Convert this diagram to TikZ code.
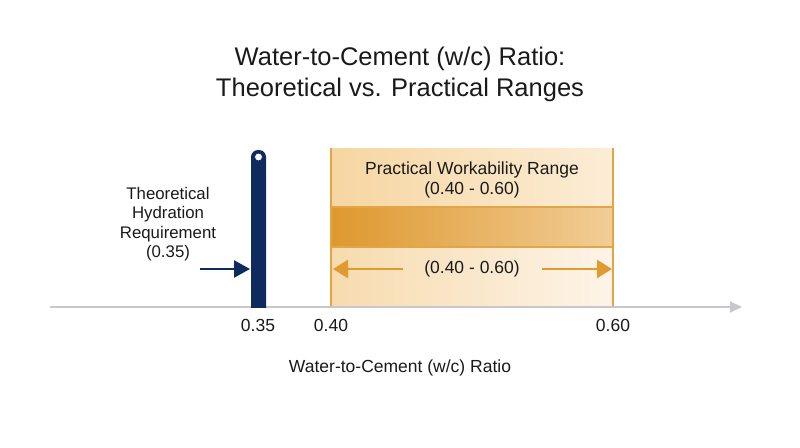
\documentclass[tikz,border=0pt]{standalone}
\usepackage{fontspec}
\setmainfont{Liberation Sans}
\usetikzlibrary{arrows.meta}
\definecolor{navy}{HTML}{0F2A5F}
\definecolor{orng}{HTML}{E09A30}
\definecolor{oline}{HTML}{E3A545}
\definecolor{axisgray}{HTML}{C8C8CC}
\definecolor{txt}{HTML}{1A1A1A}
\definecolor{upL}{HTML}{F6D6A2}
\definecolor{upR}{HTML}{FCEDD6}
\definecolor{bdL}{HTML}{DE982F}
\definecolor{bdR}{HTML}{F1CD96}
\definecolor{loL}{HTML}{F7DBAE}
\definecolor{loR}{HTML}{FDF4E8}
\tikzset{
  lbl/.style={font=\fontsize{17.5}{20.5}\selectfont, text=txt, align=center, inner sep=0pt},
  sidelbl/.style={font=\fontsize{16.8}{19.5}\selectfont, text=txt, align=center, inner sep=0pt},
  ttl/.style={font=\fontsize{25.5}{31}\selectfont, text=txt, align=center, inner sep=0pt},
  oarrow/.style={draw=orng, line width=2.5pt, -{Triangle[length=15pt,width=18pt]}},
  barrow/.style={draw=navy, line width=2.5pt, -{Triangle[length=16pt,width=17pt]}}
}
\begin{document}
\begin{tikzpicture}[x=1pt,y=-1pt]
\useasboundingbox (0,0) rectangle (800,447);
% title
\node[ttl] (title) at (400,74.5) {Water-to-Cement (w/c) Ratio:\\Theoretical vs. Practical Ranges};
% orange region
\shade[left color=upL, right color=upR] (331,148) rectangle (613,207);
\shade[left color=bdL, right color=bdR] (331,207) rectangle (613,247);
\shade[left color=loL, right color=loR] (331,247) rectangle (613,307);
\draw[oline, line width=1.5pt] (331,207) -- (613,207) (331,247) -- (613,247);
\draw[oline, line width=1.5pt] (331,148) -- (331,307) (613,148) -- (613,307);
% axis
\coordinate (ax0) at (50,307);
\coordinate (ax1) at (742,307);
\draw[axisgray, line width=1.8pt, -{Triangle[length=12pt,width=11pt]}] (ax0) -- (ax1);
% blue bar
\fill[navy, rounded corners=7pt] (251,150) rectangle (266,320);
\fill[white] (240,308) rectangle (280,322);
\node[circle, fill=white, draw=navy, line width=0.8pt, minimum size=8pt, inner sep=0pt] (hole) at (258.5,157) {};
\coordinate (bar) at (250,269);
% texts
\node[lbl] (prt) at (472,180) {Practical Workability Range\\(0.40 - 0.60)};
\node[lbl] (rng) at (472,269) {(0.40 - 0.60)};
\coordinate (L) at (333,269);
\coordinate (R) at (612,269);
\coordinate (Lt) at (403,269);
\coordinate (Rt) at (542,269);
\draw[oarrow] (Lt) -- (L);
\draw[oarrow] (Rt) -- (R);
\node[sidelbl] (theo) at (168,224) {Theoretical\\Hydration\\Requirement\\(0.35)};
\coordinate (bstart) at (200,269);
\draw[barrow] (bstart) -- (bar);
\node[lbl] (t35) at (258,325) {0.35};
\node[lbl] (t40) at (331,325) {0.40};
\node[lbl] (t60) at (613,325) {0.60};
\node[lbl] (xl) at (400,368) {Water-to-Cement (w/c) Ratio};
\end{tikzpicture}
\end{document}
